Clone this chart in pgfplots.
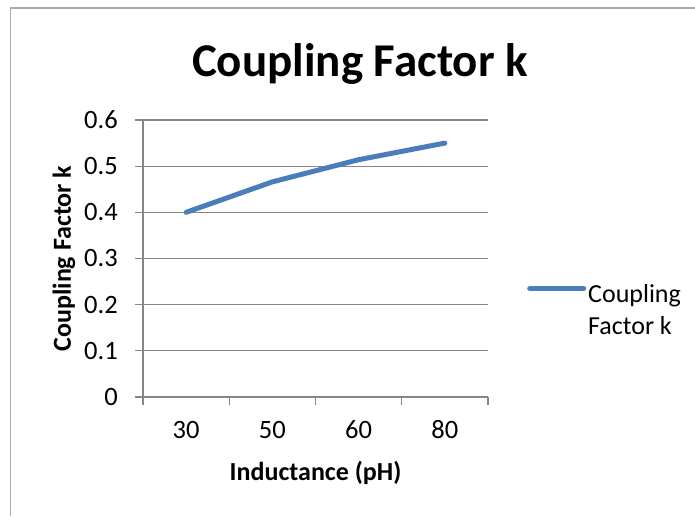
\documentclass[border=0pt]{standalone}
\usepackage{pgfplots}
\pgfplotsset{compat=1.18}
\usepackage{fontspec}
\setmainfont{Carlito}
\definecolor{exblue}{RGB}{74,126,187}
\definecolor{gridgray}{RGB}{134,134,134}
\begin{document}
\begin{tikzpicture}
\useasboundingbox (0,0) rectangle (695pt,516pt);
\fill[white] (0,0) rectangle (695pt,516pt);
\draw[gridgray!70, line width=1.2pt] (10.5pt,0pt) -- (10.5pt,508pt) -- (695pt,508pt);
\begin{axis}[
  at={(143pt,119pt)}, anchor=south west,
  scale only axis, width=345pt, height=277pt,
  xmin=-0.5, xmax=3.5, ymin=0, ymax=0.6,
  axis x line*=bottom, axis y line*=left,
  axis line style={gridgray, line width=1.3pt},
  ytick={0,0.1,0.2,0.3,0.4,0.5,0.6},
  yticklabels={0,0.1,0.2,0.3,0.4,0.5,0.6},
  ymajorgrids, grid style={gridgray, line width=1.3pt},
  tick style={gridgray, line width=1.3pt},
  tick align=outside, major tick length=8pt,
  xtick={-0.5,0.5,1.5,2.5,3.5}, xticklabels={},
  extra x ticks={0,1,2,3}, extra x tick labels={30,50,60,80},
  extra x tick style={major tick length=0pt, tick style={draw=none}},
  tick label style={font=\fontsize{26.5}{31}\selectfont, inner sep=0pt},
  xticklabel style={anchor=base, yshift=-41pt},
  yticklabel style={anchor=east, xshift=-17pt},
  xlabel={Inductance (pH)}, ylabel={Coupling Factor k},
  label style={font=\bfseries\fontsize{26}{31}\selectfont, inner sep=0pt},
  xlabel style={at={(axis description cs:0.5,0)}, anchor=base, yshift=-83pt},
  ylabel style={at={(axis description cs:-0.209,0.5)}, anchor=base},
  title={Coupling Factor k},
  title style={at={(axis description cs:0.629,1.137)}, anchor=base, font=\bfseries\fontsize{47}{56}\selectfont, inner sep=0pt},
  legend style={at={(axis description cs:1.113,0.43)}, anchor=north west, draw=none, fill=none, inner sep=0pt, font=\fontsize{26}{32}\selectfont},
  legend cell align=left,
  legend image code/.code={\draw[exblue, line width=5pt, line cap=round] (0pt,0.35em) -- (54pt,0.35em);},
]
\addplot[exblue, line width=5pt, line cap=round, line join=round] coordinates {
  (0,0.400) (1,0.466) (2,0.514) (3,0.550)
};
\addlegendentry{\begin{tabular}[t]{@{}l@{}}Coupling\\Factor k\end{tabular}}
\end{axis}
\end{tikzpicture}
\end{document}
